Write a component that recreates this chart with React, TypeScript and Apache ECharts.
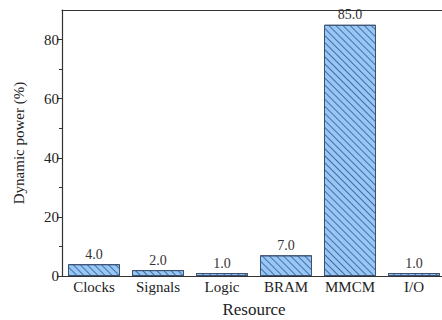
import React, { useEffect, useRef } from "react";
import * as echarts from "echarts";

const categories = ["Clocks", "Signals", "Logic", "BRAM", "MMCM", "I/O"];
const values = [4.0, 2.0, 1.0, 7.0, 85.0, 1.0];
const yLabels = [0, 20, 40, 60, 80];
const yMinor = [10, 30, 50, 70];

const FONT = "Liberation Serif";

export default function App() {
  const ref = useRef<HTMLDivElement>(null);
  useEffect(() => {
    document.body.style.margin = "0";
    const chart = echarts.init(ref.current!, null, { renderer: "svg" });
    chart.setOption({
      animation: false,
      backgroundColor: "#ffffff",
      grid: { left: 62, top: 10, width: 384, height: 266, containLabel: false, outerBoundsMode: "none" },
      xAxis: [
        {
          type: "category",
          data: categories,
          position: "bottom",
          axisLine: { lineStyle: { color: "#333", width: 1.2 } },
          axisTick: { alignWithLabel: true, inside: true, length: 5, lineStyle: { color: "#333" } },
          axisLabel: { interval: 0, fontFamily: FONT, fontSize: 15, color: "#222", margin: 3 },
          name: "Resource",
          nameLocation: "middle",
          nameGap: 25,
          nameTextStyle: { fontFamily: FONT, fontSize: 17, color: "#222", lineHeight: 17 },
        },
        {
          type: "category",
          data: categories,
          position: "bottom",
          axisLine: { show: false },
          axisTick: { interval: 0, inside: false, length: 3, lineStyle: { color: "#333", width: 1.5 } },
          axisLabel: { show: false },
        },
        {
          type: "category",
          data: categories,
          position: "top",
          axisLine: { lineStyle: { color: "#333", width: 1.2 } },
          axisTick: { show: false },
          axisLabel: { show: false },
        },
      ],
      yAxis: [
        {
          type: "value",
          min: 0,
          max: 90,
          axisLine: { show: true, lineStyle: { color: "#333", width: 1.2 } },
          axisTick: { show: true, length: 5, customValues: yLabels, lineStyle: { color: "#333" } },
          axisLabel: { customValues: yLabels, fontFamily: FONT, fontSize: 15, color: "#222", margin: 3 },
          splitLine: { show: false },
          name: "Dynamic power (%)",
          nameLocation: "middle",
          nameGap: 36,
          nameTextStyle: { fontFamily: FONT, fontSize: 15, color: "#222" },
        },
        {
          type: "value",
          min: 0,
          max: 90,
          position: "left",
          axisLine: { show: false },
          axisTick: { show: true, length: 3, customValues: yMinor, lineStyle: { color: "#333" } },
          axisLabel: { show: false, customValues: yMinor },
          splitLine: { show: false },
        },
      ],
      series: [
        {
          type: "bar",
          data: values,
          xAxisIndex: 0,
          yAxisIndex: 0,
          barWidth: 52,
          itemStyle: {
            color: "#96c7f6",
            borderColor: "#3d5272",
            borderWidth: 1,
            decal: {
              symbol: "rect",
              color: "rgba(40,70,120,0.7)",
              dashArrayX: [1, 0],
              dashArrayY: [1, 4],
              rotation: Math.PI / 4,
            },
          },
          label: {
            show: true,
            position: "top",
            distance: 3,
            formatter: (p: any) => Number(p.value).toFixed(1),
            fontFamily: FONT,
            fontSize: 14,
            color: "#333",
          },
        },
      ],
    });
    return () => chart.dispose();
  }, []);
  return <div ref={ref} style={{ width: 442, height: 320, position: "absolute", left: 0, top: 0 }} />;
}
